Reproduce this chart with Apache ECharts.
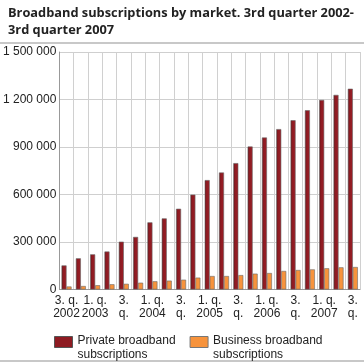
<!DOCTYPE html>
<html>
<head>
<meta charset="utf-8">
<script src="https://cdn.jsdelivr.net/npm/echarts@6/dist/echarts.min.js"></script>
<style>
html,body{margin:0;padding:0;background:#fff;}
#chart{width:364px;height:363px;}
</style>
</head>
<body>
<div id="chart"></div>
<script>
const categories = ["3. q. 2002","4. q. 2002","1. q. 2003","2. q. 2003","3. q. 2003","4. q. 2003","1. q. 2004","2. q. 2004","3. q. 2004","4. q. 2004","1. q. 2005","2. q. 2005","3. q. 2005","4. q. 2005","1. q. 2006","2. q. 2006","3. q. 2006","4. q. 2006","1. q. 2007","2. q. 2007","3. q. 2007"];
const tickLabels = ["3. q.\n2002","","1. q.\n2003","","3.\nq.","","1. q.\n2004","","3.\nq.","","1. q.\n2005","","3.\nq.","","1. q.\n2006","","3.\nq.","","1. q.\n2007","","3.\nq."];
const privateSubs = [152000,197000,222000,240000,302000,332000,424000,449000,510000,599000,691000,739000,798000,903000,960000,1013000,1069000,1132000,1197000,1229000,1268000];
const businessSubs = [19000,22000,27000,33000,36000,43000,52000,56000,62000,75000,85000,85000,91000,100000,104000,117000,123000,127000,134000,140000,142000];
const yTicks = [0,300000,600000,900000,1200000,1500000];

const chart = echarts.init(document.getElementById('chart'));
const fmt = v => String(v).replace(/\B(?=(\d{3})+(?!\d))/g, ' ');
chart.setOption({
  animation:false,
  textStyle:{fontFamily:'Liberation Sans, Arial, sans-serif'},
  title:{
    text:'Broadband subscriptions by market. 3rd quarter 2002-\n3rd quarter 2007',
    left:3, top:0,
    textStyle:{fontFamily:'Open Sans',fontWeight:'bold',fontSize:12.8,lineHeight:17,color:'#222'}
  },
  graphic:[
    {type:'rect',shape:{x:0,y:42,width:364,height:2},style:{fill:'#c8c8c8'}},
    {type:'rect',shape:{x:0,y:360,width:364,height:2},style:{fill:'#c8c8c8'}}
  ],
  grid:{left:56,right:4,top:52,bottom:73.5},
  legend:{
    left:49, top:317,
    itemWidth:18, itemHeight:11, itemGap:14,
    textStyle:{fontSize:12,color:'#222',fontFamily:'Liberation Sans, Arial, sans-serif',
      rich:{s:{fontSize:12,lineHeight:11},t:{fontSize:12,lineHeight:14,color:'#222',fontFamily:'Liberation Sans, Arial, sans-serif'}}},
    formatter: n => n === 'Private broadband subscriptions'
      ? '{s|\u00a0}\n{t|Private broadband}\n{t|subscriptions}'
      : '{s|\u00a0}\n{t|Business broadband}\n{t|subscriptions}',
    data:[
      {name:'Private broadband subscriptions',icon:'rect',itemStyle:{color:'#8e1b22',borderColor:'#555',borderWidth:1}},
      {name:'Business broadband subscriptions',icon:'rect',itemStyle:{color:'#f7933c',borderColor:'#777',borderWidth:1}}
    ]
  },
  xAxis:{
    type:'category', data:categories,
    axisLine:{lineStyle:{color:'#999'}},
    axisTick:{show:false},
    splitLine:{show:true,interval:0,lineStyle:{color:'#d0d0d0',width:1}},
    axisLabel:{interval:0,fontSize:12,lineHeight:13,color:'#222',margin:5,
      formatter:(v,i)=>tickLabels[i]}
  },
  yAxis:{
    type:'value', min:0, max:1500000, interval:300000,
    axisLine:{show:true,lineStyle:{color:'#999'}},
    axisTick:{show:false},
    splitLine:{lineStyle:{color:'#cfcfcf'}},
    axisLabel:{fontSize:12,color:'#222',margin:3,formatter:v=>yTicks.includes(v)?fmt(v):''}
  },
  series:[
    {name:'Private broadband subscriptions',type:'bar',data:privateSubs,barWidth:5,barGap:'0%',
     itemStyle:{color:new echarts.graphic.LinearGradient(0,0,1,0,[{offset:0,color:'#5e0e13'},{offset:0.35,color:'#8e1b22'},{offset:1,color:'#9a1d25'}]),borderColor:'#666',borderWidth:0.6}},
    {name:'Business broadband subscriptions',type:'bar',data:businessSubs,barWidth:5,barGap:'0%',
     itemStyle:{color:'#f7933c',borderColor:'#6a6a6a',borderWidth:0.6}}
  ]
});
</script>
</body>
</html>
